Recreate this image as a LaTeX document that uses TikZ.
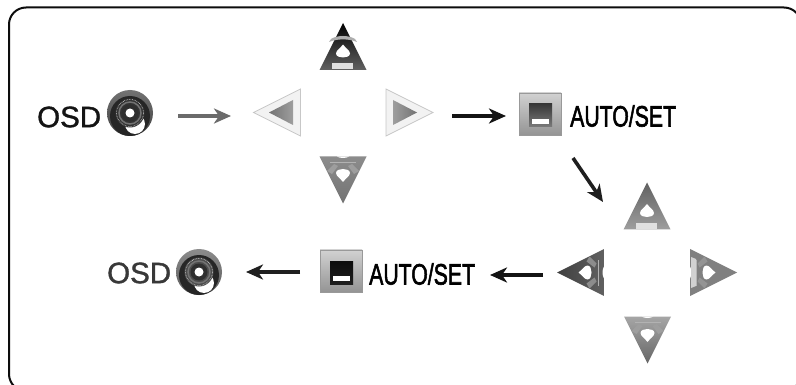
\documentclass[tikz,border=0pt]{standalone}
\usepackage{graphicx}
\usepackage{fontspec}
\setmainfont{Liberation Sans}
\newfontfamily\boldish[FakeBold=1.2]{Liberation Sans}
\newfontfamily\boldishmore[FakeBold=2.2]{Liberation Sans}
\usetikzlibrary{arrows.meta}
\tikzset{
  x=1pt,y=-1pt,
  lab/.style={inner sep=0pt,font=\fontsize{29.5}{29.5}\boldish},
  keylab/.style={inner sep=0pt,font=\fontsize{29.5}{29.5}\boldishmore},
  conn/.style={line width=3.6pt,-{Stealth[length=17pt,width=15pt,inset=5pt]}},
}
% triangle icon, drawn pointing up in local coordinates
\newcommand{\tribody}[3]{\path[shade,#3] [shift={#1},rotate=#2] (0,-23.5)--(23.5,23.5)--(-23.5,23.5)--cycle;}
\newcommand{\dropshape}{(0,-2) .. controls (2,1) and (7,4) .. (7,7) .. controls (7,10) and (3,11) .. (0,11) .. controls (-3,11) and (-7,10) .. (-7,7) .. controls (-7,4) and (-2,1) .. (0,-2) -- cycle}
\newcommand{\triup}[3]{%
  \tribody{#1}{#2}{#3}
  \begin{scope}[shift={#1},rotate=#2]
    \fill[white] \dropshape;
    \fill[white!88!black] (-11,17) rectangle (10,23);
  \end{scope}}
\newcommand{\tridown}[4]{%
  \tribody{#1}{#2}{#3}
  \begin{scope}[shift={#1},rotate=#2]
    \fill[#4] (-16,9) -- (-11,6) -- (-5,14) -- (-9,16) -- cycle;
    \fill[#4] (16,9) -- (11,6) -- (5,14) -- (9,16) -- cycle;
    \fill[white] \dropshape;
    \fill[white] (-6,23.5) .. controls (-3,21.5) and (3,21.5) .. (6,23.5) -- cycle;
    \draw[white!70!black,line width=.7pt] (-13,17.5) -- (13,17.5);
  \end{scope}}
\newcommand{\lightup}[2]{%
  \begin{scope}[shift={#1},rotate=#2]
    \filldraw[draw=black!22,fill=black!5,line width=.8pt] (0,-23.5)--(23.5,23.5)--(-23.5,23.5)--cycle;
  \end{scope}}
\newcommand{\disc}[4]{%
  \begin{scope}[shift={#1}]
    \shade[top color=#2,bottom color=#3] (0,0) circle (23);
    \fill[black!85] (0,3) circle (20);
    \fill[white] (5,11) circle (10);
    \fill[#4] (0,0) circle (14.5);
    \draw[white!85!black,line width=.6pt,densely dotted] (0,0) circle (13.5);
    \draw[black!55,line width=1.5pt] (0,0) circle (11);
    \fill[black!82] (0,0) circle (8.5);
    \fill[white] (0,0) circle (4.5);
  \end{scope}}
\newcommand{\keycap}[3]{%
  \begin{scope}[shift={#1}]
    \shade[draw=black!40,line width=.8pt,top color=black!18,bottom color=black!42] (0,0) rectangle (42,42);
    \shade[top color=#2,bottom color=#3] (10,11) rectangle (33,34);
    \fill[white] (13,26) rectangle (30,31);
  \end{scope}}
\begin{document}
\begin{tikzpicture}
\useasboundingbox (0,0) rectangle (796,385);
\fill[white] (0,0) rectangle (796,385);
% frame, running off the page at its right and bottom
\begin{scope}
  \clip (0,0) rectangle (796,385);
  \draw[line width=2pt,black!95,rounded corners=17pt] (9,7.5) rectangle (801,391);
\end{scope}
% first row
\node[lab,anchor=west,text=black!92] (osdA) at (37,117) {OSD};
\disc{(130,113)}{black!55}{black!75}{black!80}
\coordinate (a1s) at (178,116);
\coordinate (a1e) at (231,116);
\draw[conn,black!58] (a1s) -- (a1e);
% first key group
\triup{(343,46.5)}{0}{top color=black,bottom color=black!62}
\fill[black!32] (331,39) .. controls (337,35) and (349,35) .. (355,39) -- (357,42) .. controls (349,38.5) and (337,38.5) .. (329,42) -- cycle;
\lightup{(277,112.5)}{90}
\shade[left color=black!55,right color=black!38] (269,112.5) -- (293,100) -- (293,125) -- cycle;
\lightup{(409.5,112.5)}{-90}
\shade[left color=black!38,right color=black!55] (393,100) -- (393,125) -- (417,112.5) -- cycle;
\tridown{(343,180)}{180}{top color=black!45,bottom color=black!55}{black!38}
\coordinate (a2s) at (452,116);
\coordinate (a2e) at (506,116);
\draw[conn,black!92] (a2s) -- (a2e);
\keycap{(519,93)}{black!78}{black!52}
\node[keylab,anchor=west] (autoA) at (570,116) {\scalebox{.72}[1]{AUTO/SET}};
\coordinate (a3s) at (573,158);
\coordinate (a3e) at (603,202);
\draw[conn,black!88] (a3s) -- (a3e);
% second key group
\triup{(647,206)}{0}{top color=black!62,bottom color=black!38}
\tridown{(580.5,272.5)}{90}{left color=black!75,right color=black!62}{black!45}
\tridown{(713.5,272.5)}{-90}{left color=black!50,right color=black!50}{black!42}
\fill[black!18] (691,257) -- (696,259) -- (696,286) -- (691,288) -- cycle;
\tridown{(647.5,340)}{180}{top color=black!35,bottom color=black!60}{black!38}
\coordinate (a4s) at (543,275);
\coordinate (a4e) at (490,275);
\draw[conn,black!92] (a4s) -- (a4e);
\keycap{(320,250)}{black!95}{black!88}
\node[keylab,anchor=west] (autoB) at (369,274) {\scalebox{.72}[1]{AUTO/SET}};
\coordinate (a5s) at (300,272);
\coordinate (a5e) at (246,272);
\draw[conn,black!88] (a5s) -- (a5e);
\disc{(199,272)}{black!45}{black!65}{black!70}
\node[lab,anchor=west,text=black!78] (osdB) at (107,273) {OSD};
\end{tikzpicture}
\end{document}
